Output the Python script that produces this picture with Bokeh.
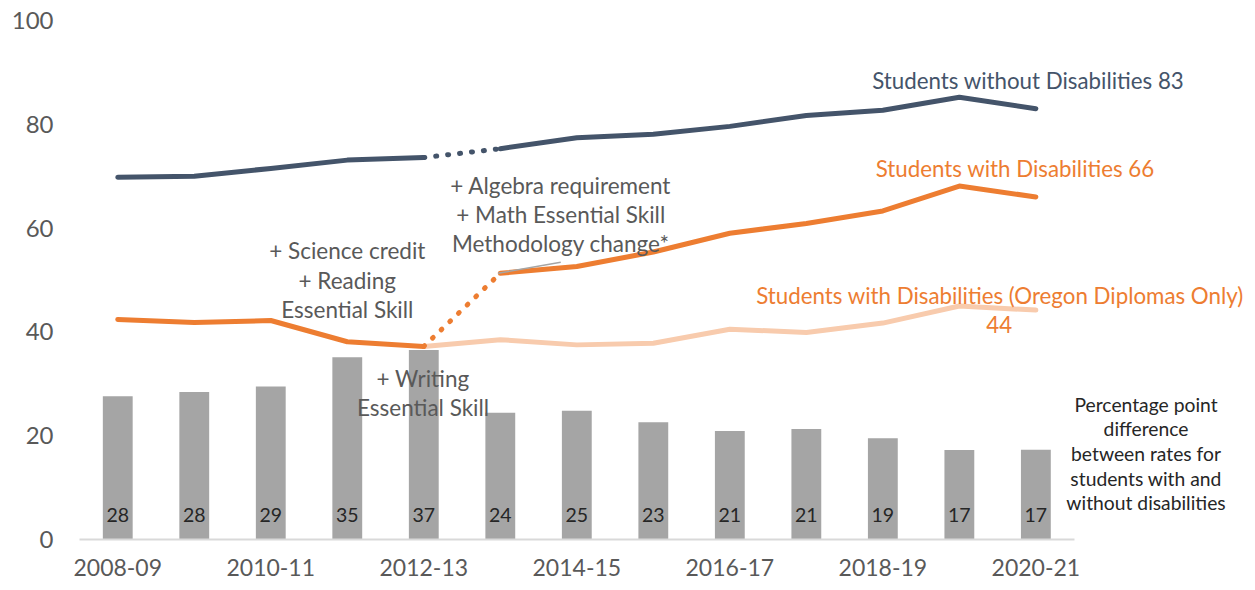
from bokeh.plotting import figure
from bokeh.models import Range1d, ColumnDataSource, LabelSet, Label
from bokeh.core.properties import value
from bokeh.embed import file_html
from bokeh.resources import INLINE

# ---------------- data ----------------
years = ["2008-09", "2009-10", "2010-11", "2011-12", "2012-13", "2013-14", "2014-15",
         "2015-16", "2016-17", "2017-18", "2018-19", "2019-20", "2020-21"]
without_dis = [69.8, 70.0, 71.5, 73.1, 73.6, 75.3, 77.4, 78.1, 79.6, 81.7, 82.7, 85.2, 83.0]
with_dis = [42.4, 41.8, 42.2, 38.1, 37.2, 51.3, 52.6, 55.4, 59.0, 60.9, 63.3, 68.1, 66.0]
oregon_only = [None, None, None, None, 37.2, 38.5, 37.5, 37.8, 40.5, 39.9, 41.7, 45.0, 44.2]
gap = [27.6, 28.4, 29.5, 35.1, 36.5, 24.4, 24.8, 22.6, 20.9, 21.3, 19.5, 17.25, 17.3]
gap_labels = ["28", "28", "29", "35", "37", "24", "25", "23", "21", "21", "19", "17", "17"]
y_ticks = [0, 20, 40, 60, 80, 100]
x_tick_years = ["2008-09", "2010-11", "2012-13", "2014-15", "2016-17", "2018-19", "2020-21"]

FONT = "Lato"
NAVY = "#44546A"
ORANGE = "#ED7D31"
LIGHT = "#F8CBAD"
BAR = "#A5A5A5"
GRAY_TXT = "#595959"

xs = list(range(len(years)))
brk = years.index("2012-13")  # methodology break between 2012-13 and 2013-14
n = len(years)

# frame extends to the right so the end labels and the note fit in it;
# the axis line is bounded to the data categories
p = figure(width=1250, height=588, output_backend="svg", toolbar_location=None,
           x_range=Range1d(-0.5, 14.74), y_range=Range1d(0, 100),
           min_border_left=79, min_border_right=5, min_border_top=20, min_border_bottom=49)
p.outline_line_color = None
p.xgrid.visible = False
p.ygrid.visible = False
p.background_fill_color = "white"

# axes
p.yaxis.ticker = y_ticks
p.yaxis.axis_line_color = None
p.yaxis.major_tick_line_color = None
p.yaxis.minor_tick_line_color = None
p.yaxis.major_tick_out = 0
p.yaxis.major_tick_in = 0
p.yaxis.major_label_standoff = 26
p.yaxis.major_label_text_font = FONT
p.yaxis.major_label_text_font_size = "24px"
p.yaxis.major_label_text_color = GRAY_TXT

p.xaxis.ticker = [years.index(y) for y in x_tick_years]
p.xaxis.major_label_overrides = {years.index(y): y for y in x_tick_years}
p.xaxis.bounds = (-0.5, n - 0.5)
p.xaxis.axis_line_color = "#D9D9D9"
p.xaxis.axis_line_width = 2
p.xaxis.major_tick_line_color = None
p.xaxis.minor_tick_line_color = None
p.xaxis.major_tick_out = 0
p.xaxis.major_tick_in = 0
p.xaxis.major_label_standoff = 19
p.xaxis.major_label_text_font = FONT
p.xaxis.major_label_text_font_size = "23px"
p.xaxis.major_label_text_color = GRAY_TXT

# bars
bar_src = ColumnDataSource(dict(x=xs, top=gap, lab=gap_labels, ly=[4.7] * n))
p.vbar(x="x", top="top", width=0.39, bottom=0, source=bar_src, fill_color=BAR, line_color=None)
p.add_layout(LabelSet(x="x", y="ly", text="lab", source=bar_src, text_align="center",
                      text_baseline="middle", text_font=value(FONT), text_font_size="19.5px",
                      text_color="#262626"))

# lines
LW = 5
# oregon only (light)
p.line(xs[brk:], oregon_only[brk:], line_color=LIGHT, line_width=LW, line_join="round", line_cap="round")
# without disabilities
p.line(xs[:brk + 1], without_dis[:brk + 1], line_color=NAVY, line_width=LW, line_join="round", line_cap="round")
p.line(xs[brk:brk + 2], without_dis[brk:brk + 2], line_color=NAVY, line_width=LW, line_dash="1 11",
       line_cap="round")
p.line(xs[brk + 1:], without_dis[brk + 1:], line_color=NAVY, line_width=LW, line_join="round", line_cap="round")
# with disabilities
p.line(xs[:brk + 1], with_dis[:brk + 1], line_color=ORANGE, line_width=LW, line_join="round", line_cap="round")
p.line(xs[brk:brk + 2], with_dis[brk:brk + 2], line_color=ORANGE, line_width=LW, line_dash="1 11",
       line_cap="round")
p.line(xs[brk + 1:], with_dis[brk + 1:], line_color=ORANGE, line_width=LW, line_join="round", line_cap="round")

# leader line for methodology annotation
p.segment(x0=[brk + 0.97], y0=[51.3], x1=[brk + 1.79], y1=[53.4], line_color=BAR, line_width=1.5)


def add_text(x, y, text, color, size, align="center"):
    p.add_layout(Label(x=x, y=y, text=text, text_font=FONT, text_font_size=size,
                       text_color=color, text_align=align, text_baseline="middle"))


# series end labels
add_text(11.9, 88.5, "Students without Disabilities 83", NAVY, "22.3px")
add_text(11.73, 71.5, "Students with Disabilities 66", ORANGE, "22.3px")
add_text(11.53, 47.1, "Students with Disabilities (Oregon Diplomas Only)", ORANGE, "22.3px")
add_text(11.52, 41.5, "44", ORANGE, "22.3px")

# policy annotations
for yy, t in zip([55.6, 50.0, 44.3], ["+ Science credit", "+ Reading", "Essential Skill"]):
    add_text(3.0, yy, t, GRAY_TXT, "22.5px")
for yy, t in zip([68.3, 62.7, 57.1], ["+ Algebra requirement", "+ Math Essential Skill", "Methodology change*"]):
    add_text(5.79, yy, t, GRAY_TXT, "22.5px")
for yy, t in zip([31.0, 25.4], ["+ Writing", "Essential Skill"]):
    add_text(3.99, yy, t, GRAY_TXT, "22.5px")

# gap note
for yy, t in zip([26.0, 21.3, 16.6, 11.7, 7.1],
                 ["Percentage point", "difference", "between rates for", "students with and",
                  "without disabilities"]):
    add_text(13.44, yy, t, "#262626", "19.3px")

open("out.html", "w").write(file_html(p, INLINE))
